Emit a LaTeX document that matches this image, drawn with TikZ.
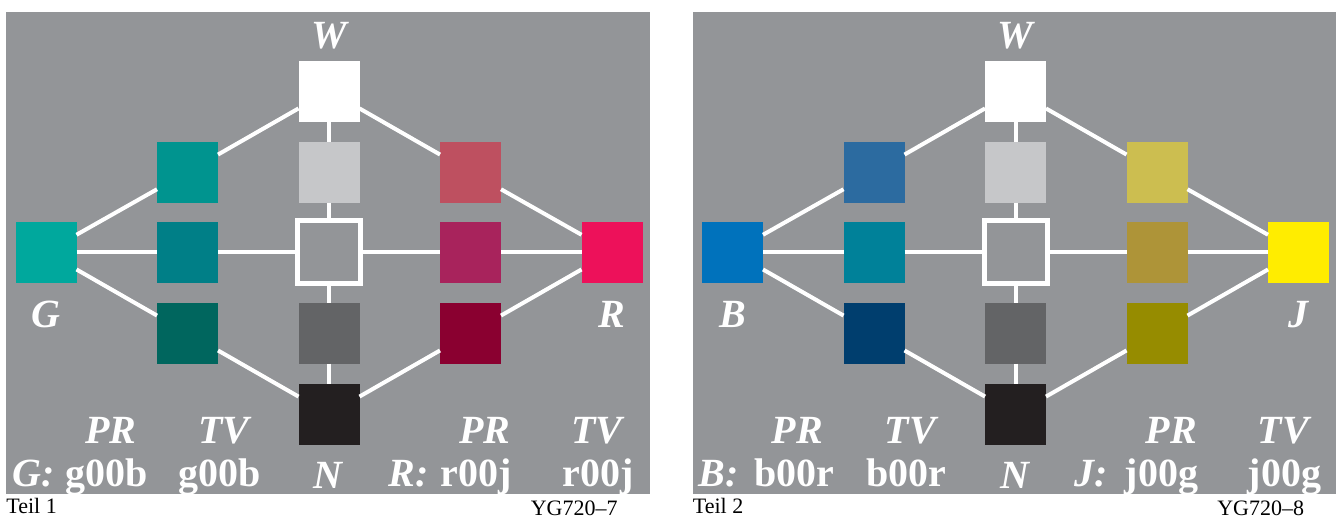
\documentclass[tikz,border=0pt]{standalone}
\usepackage{fontspec}
\setmainfont{Liberation Serif}

\definecolor{panelgray}{RGB}{147,149,152}
\definecolor{lightpatch}{RGB}{198,199,201}
\definecolor{darkpatch}{RGB}{99,100,102}
\definecolor{blackpatch}{RGB}{35,31,32}
% hue series: 0 = full colour, 1 = towards white, 2 = towards grey, 3 = towards black
\definecolor{G0}{RGB}{0,168,157}
\definecolor{G1}{RGB}{0,148,143}
\definecolor{G2}{RGB}{0,127,135}
\definecolor{G3}{RGB}{0,102,94}
\definecolor{R0}{RGB}{237,17,90}
\definecolor{R1}{RGB}{190,80,96}
\definecolor{R2}{RGB}{168,35,92}
\definecolor{R3}{RGB}{138,0,48}
\definecolor{B0}{RGB}{0,114,188}
\definecolor{B1}{RGB}{44,107,160}
\definecolor{B2}{RGB}{0,129,153}
\definecolor{B3}{RGB}{0,62,110}
\definecolor{J0}{RGB}{255,237,0}
\definecolor{J1}{RGB}{204,190,80}
\definecolor{J2}{RGB}{174,148,56}
\definecolor{J3}{RGB}{150,140,0}

\tikzset{
    patch/.style={rectangle, minimum size=30.5pt, inner sep=0pt, outer sep=0pt},
    hollow/.style={rectangle, draw=white, line width=2.5pt, fill=panelgray, minimum size=31.5pt, inner sep=0pt},
    link/.style={white, line width=2pt},
    letter/.style={text=white, font=\fontsize{20}{24}\selectfont\bfseries\itshape, inner sep=0pt, anchor=base},
    code/.style={text=white, font=\fontsize{20}{24}\selectfont\bfseries, inner sep=0pt, anchor=base},
    caption/.style={font=\fontsize{11}{13}\selectfont, inner sep=0pt},
}

% #1 left letter, #2 left code, #3 right letter, #4 right code, #5 part, #6 figure number
\newcommand{\drawpanel}[6]{%
    % background
    \fill[panelgray] (6,12) rectangle (650,494);
    % grey column
    \node[patch, fill=white] (W) at (329,91) {};
    \node[patch, fill=lightpatch] (ct) at (329,172) {};
    \node[hollow] (O) at (329,252) {};
    \node[patch, fill=darkpatch] (cb) at (329,333) {};
    \node[patch, fill=blackpatch] (N) at (329,414) {};
    % left hue
    \node[patch, fill=#10] (lc) at (46,252) {};
    \node[patch, fill=#11] (lt) at (187.5,172) {};
    \node[patch, fill=#12] (lm) at (187.5,252) {};
    \node[patch, fill=#13] (lb) at (187.5,333) {};
    % right hue
    \node[patch, fill=#30] (rc) at (612,252) {};
    \node[patch, fill=#31] (rt) at (470.5,172) {};
    \node[patch, fill=#32] (rm) at (470.5,252) {};
    \node[patch, fill=#33] (rb) at (470.5,333) {};
    % links
    \foreach \a/\b in {lc/lt, lt/W, W/rt, rt/rc, lc/lb, lb/N, N/rb, rb/rc,
                       lc/lm, lm/O, O/rm, rm/rc, W/ct, ct/O, O/cb, cb/N}
        \draw[link] (\a) -- (\b);
    % labels
    \node[letter] (wl) at (329,48) {W};
    \node[letter] (ll) at (46,327) {#1};
    \node[letter] (rl) at (612,327) {#3};
    \node[letter] (nl) at (328,488) {N};
    \node[letter] (lpr) at (111,443) {PR};
    \node[letter] (ltv) at (224,443) {TV};
    \node[letter] (rpr) at (485,443) {PR};
    \node[letter] (rtv) at (597,443) {TV};
    \node[letter, anchor=base west] (lkey) at (12,486) {#1:};
    \node[code, anchor=base east] (lcode) at (148,486) {#2};
    \node[code] (ltvcode) at (220,486) {#2};
    \node[letter, anchor=base west] (rkey) at (388,486) {#3:};
    \node[code, anchor=base east] (rcode) at (512,486) {#4};
    \node[code] (rtvcode) at (598,486) {#4};
    % captions
    \node[caption, anchor=base west] (part) at (6,513) {Teil #5};
    \node[caption, anchor=base east] (fig) at (618,515) {#6};
}

\begin{document}
\begin{tikzpicture}[x=0.5pt, y=-0.5pt]
\useasboundingbox (0,0) rectangle (1336,521);
\begin{scope}[name prefix=one-]
    \drawpanel{G}{g00b}{R}{r00j}{1}{YG720--7}
\end{scope}
\begin{scope}[shift={(686.5,0)}, name prefix=two-]% second panel runs to the page edge
    \drawpanel{B}{b00r}{J}{j00g}{2}{YG720--8}
\end{scope}
\end{tikzpicture}
\end{document}
